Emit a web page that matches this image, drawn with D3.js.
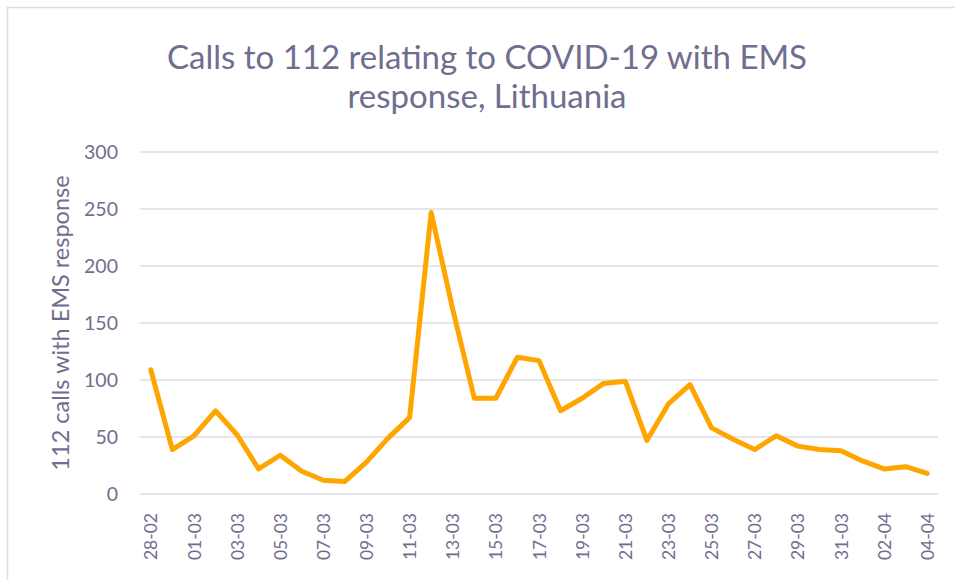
<!DOCTYPE html>
<html>
<head>
<meta charset="utf-8">
<script src="https://cdn.jsdelivr.net/npm/d3@7"></script>
<style>
  body { margin: 0; background: #fff; }
  svg text { font-family: Lato, "Open Sans", sans-serif; fill: #6f6e8e; }
</style>
</head>
<body>
<svg id="chart" width="955" height="580"></svg>
<script>
// daily dates, 28 Feb - 4 Apr 2020
const dates = ["28-02","29-02","01-03","02-03","03-03","04-03","05-03","06-03","07-03","08-03",
  "09-03","10-03","11-03","12-03","13-03","14-03","15-03","16-03","17-03","18-03",
  "19-03","20-03","21-03","22-03","23-03","24-03","25-03","26-03","27-03","28-03",
  "29-03","30-03","31-03","01-04","02-04","03-04","04-04"];
const calls = [109, 39, 51, 73, 52, 22, 34, 20, 12, 11,
  28, 49, 67, 247, 162, 84, 84, 120, 117, 73,
  84, 97, 99, 47, 79, 96, 58, 48, 39, 51,
  42, 39, 38, 29, 22, 24, 18];
const yTicks = [0, 50, 100, 150, 200, 250, 300];

const svg = d3.select("#chart");
const margin = { left: 140, right: 17, top: 152, bottom: 86 };
const W = 955, H = 580;

// chart border
svg.append("rect")
  .attr("x", 7.5).attr("y", 7.5)
  .attr("width", W + 10).attr("height", H + 10)
  .attr("fill", "none").attr("stroke", "#dcdce6").attr("stroke-width", 1.5);

const x = d3.scalePoint()
  .domain(dates)
  .range([margin.left, W - margin.right])
  .padding(0.5);

const y = d3.scaleLinear()
  .domain([0, 300])
  .range([H - margin.bottom, margin.top]);

// gridlines
svg.append("g")
  .selectAll("line")
  .data(yTicks)
  .enter()
  .append("line")
  .attr("x1", margin.left).attr("x2", W - margin.right)
  .attr("y1", d => y(d)).attr("y2", d => y(d))
  .attr("stroke", "#dedde6").attr("stroke-width", 1.5);

// y axis labels
const yAxis = svg.append("g")
  .attr("transform", `translate(${margin.left - 22},0)`)
  .call(d3.axisLeft(y).tickValues(yTicks).tickSize(0).tickPadding(0));
yAxis.select(".domain").remove();
yAxis.selectAll("text").style("font-size", "19.5px").attr("dy", "0.35em");

// x axis labels, every second day
const xAxis = svg.append("g")
  .attr("transform", `translate(0,${H - margin.bottom})`)
  .call(d3.axisBottom(x).tickValues(dates.filter((d, i) => i % 2 === 0)).tickSize(0));
xAxis.select(".domain").remove();
xAxis.selectAll("text")
  .style("font-size", "17.5px")
  .attr("text-anchor", "end")
  .attr("transform", "rotate(-90)")
  .attr("x", -19).attr("y", 0).attr("dy", "0.35em");

// line
const line = d3.line()
  .x((d, i) => x(dates[i]))
  .y(d => y(d));

svg.append("path")
  .datum(calls)
  .attr("d", line)
  .attr("fill", "none")
  .attr("stroke", "#ffa500")
  .attr("stroke-width", 5)
  .attr("stroke-linejoin", "round")
  .attr("stroke-linecap", "round");

// title
svg.append("text")
  .attr("x", 487).attr("y", 69)
  .attr("text-anchor", "middle")
  .style("font-size", "33px")
  .text("Calls to 112 relating to COVID-19 with EMS");
svg.append("text")
  .attr("x", 487).attr("y", 108)
  .attr("text-anchor", "middle")
  .style("font-size", "33px")
  .text("response, Lithuania");

// y axis title
svg.append("text")
  .attr("transform", `translate(69,${(y(0) + y(300)) / 2}) rotate(-90)`)
  .attr("text-anchor", "middle")
  .style("font-size", "23.5px")
  .text("112 calls with EMS response");
</script>
</body>
</html>
